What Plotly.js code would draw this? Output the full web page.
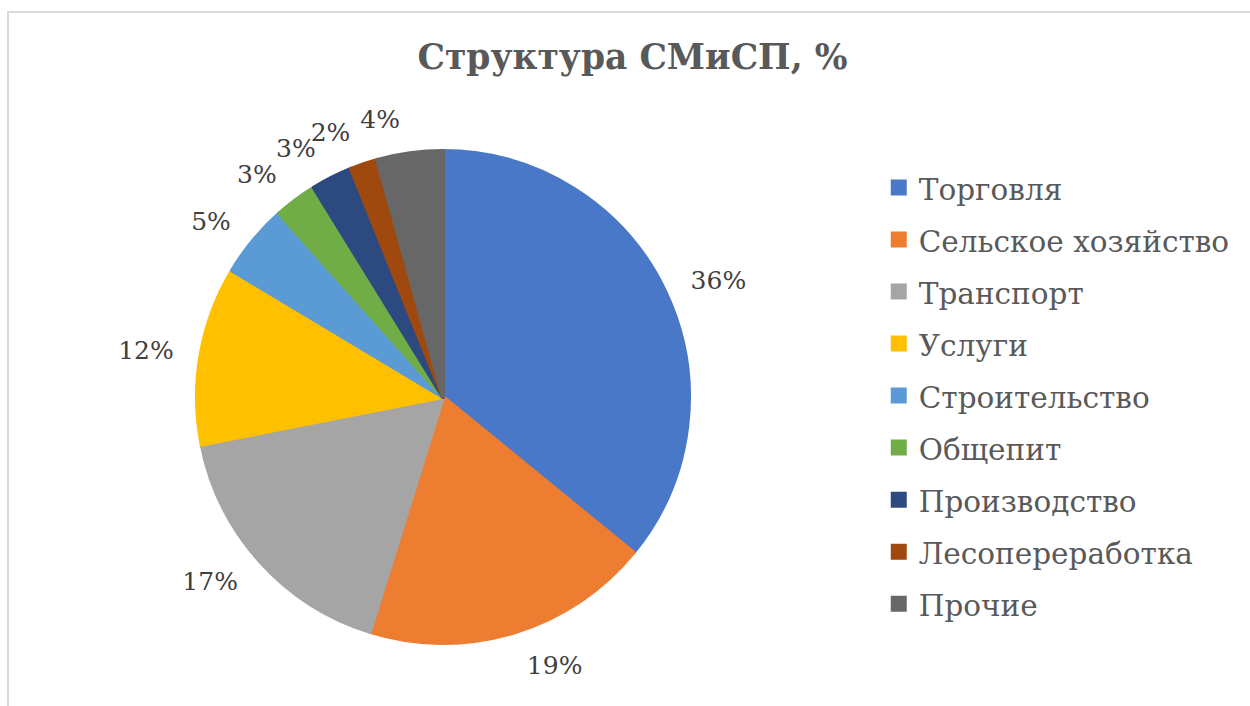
<!DOCTYPE html>
<html>
<head>
<meta charset="utf-8">
<script src="https://cdn.plot.ly/plotly-3.0.1.min.js"></script>
<style>
  html, body { margin: 0; padding: 0; background: #ffffff; overflow: hidden; }
  #frame { position: absolute; left: 7px; top: 11px; width: 1400px; height: 900px;
           border: 2px solid #d9d9d9; box-sizing: border-box; }
  #chart { position: absolute; left: 0; top: 0; width: 1250px; height: 706px; }
  #chart path.textline { display: none; }
</style>
</head>
<body>
<div id="frame"></div>
<div id="chart"></div>
<script>
// ---- data ----
const categories = ["Торговля", "Сельское хозяйство", "Транспорт", "Услуги", "Строительство",
                    "Общепит", "Производство", "Лесопереработка", "Прочие"];
const shares = [35.9, 18.9, 17.1, 11.7, 4.8, 2.8, 2.7, 1.8, 4.3];
const colors = ["#4A78C8", "#ED7D31", "#A5A5A5", "#FFC000", "#5B9BD5",
                "#70AD47", "#2C4A80", "#A0490F", "#676767"];
const chartTitle = "Структура СМиСП, %";

const serif = "DejaVu Serif, serif";

// legend text: visible line padded with blank lines to get Excel-like row spacing
const legendLabels = categories.map(c => '<br><br><br><span style="font-size:29.5px">' + c + '</span><br>');

const pieMain = {
  type: 'pie',
  labels: legendLabels,
  values: shares,
  sort: false,
  direction: 'clockwise',
  rotation: 0,
  marker: { colors: colors, line: { width: 4, color: colors } },
  textinfo: 'none',
  hoverinfo: 'skip',
  domain: { x: [0.1576, 0.5512], y: [0.0892, 0.7862] },
  showlegend: true
};

// percentage labels: drawn by transparent, slightly larger pies; split into
// three groups so that neighbouring small-slice labels are not pushed apart
const labelGroups = [0, 1, 2].map(g => ({
  type: 'pie',
  labels: categories,
  values: shares,
  sort: false,
  direction: 'clockwise',
  rotation: 0,
  marker: { colors: categories.map(() => 'rgba(0,0,0,0)'), line: { width: 0 } },
  texttemplate: '%{percent:.0%}',
  textposition: categories.map((c, i) => (i % 3 === g ? 'outside' : 'none')),
  outsidetextfont: { family: serif, size: 25, color: '#404040' },
  hoverinfo: 'skip',
  domain: { x: [0.1416, 0.5672], y: [0.0609, 0.8145] },
  showlegend: false
}));

const layout = {
  width: 1250,
  height: 706,
  margin: { l: 0, r: 0, t: 0, b: 0 },
  paper_bgcolor: 'rgba(0,0,0,0)',
  plot_bgcolor: 'rgba(0,0,0,0)',
  title: {
    text: '<b>' + chartTitle + '</b>',
    font: { family: serif, size: 34.5, color: '#595959' },
    x: 0.506, xanchor: 'center',
    y: 0.92, yanchor: 'middle'
  },
  legend: {
    x: 0.703, xanchor: 'left',
    y: 0.439, yanchor: 'middle',
    font: { family: serif, size: 7.54, color: '#595959' },
    itemclick: false, itemdoubleclick: false,
    tracegroupgap: 0
  }
};

Plotly.newPlot('chart', [pieMain].concat(labelGroups), layout, { displayModeBar: false, staticPlot: true });
</script>
</body>
</html>
